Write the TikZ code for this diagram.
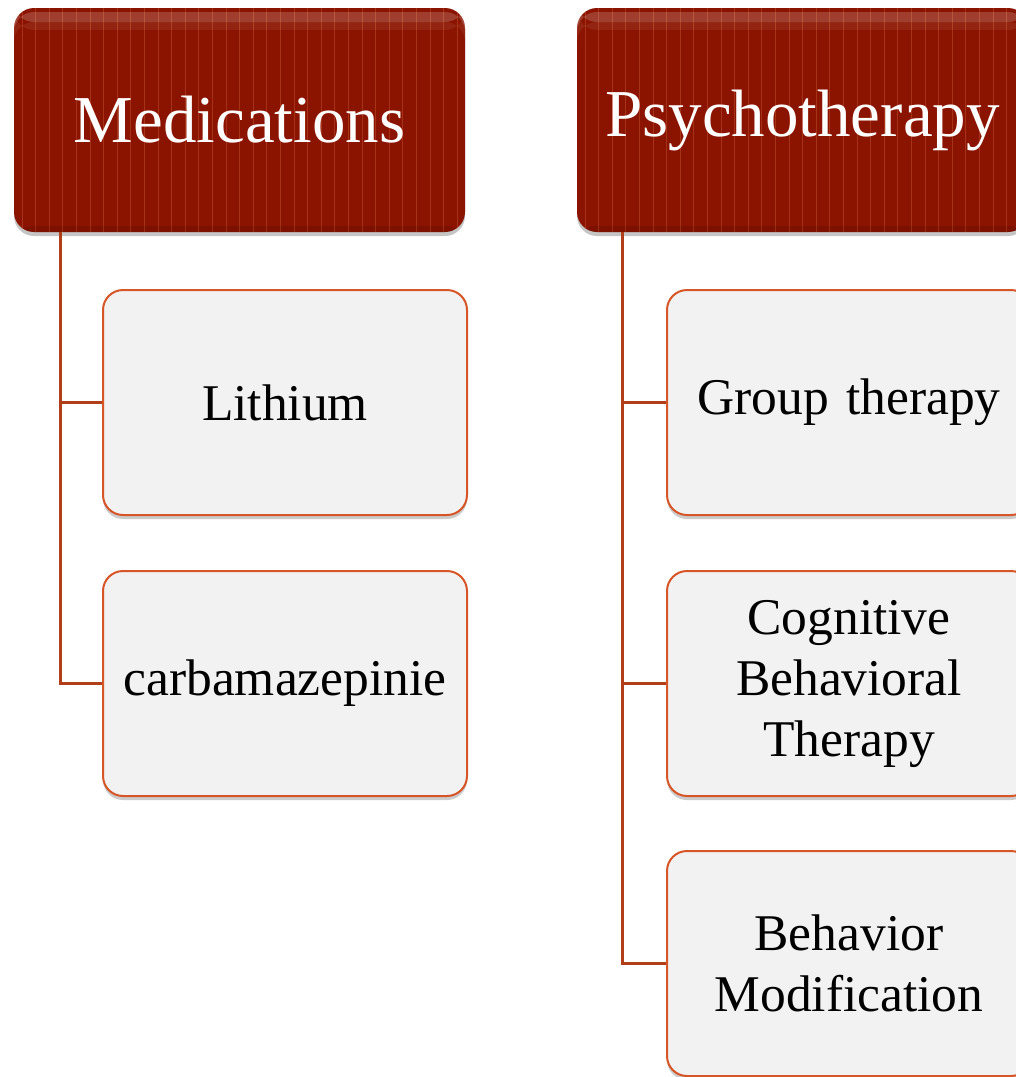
\documentclass[tikz,border=0pt]{standalone}
\usepackage{fontspec}
\setmainfont{Liberation Serif}
\usetikzlibrary{shadows,fadings}
\definecolor{hdrred}{RGB}{139,20,0}
\definecolor{stripe}{RGB}{200,90,50}
\definecolor{boxfill}{RGB}{242,242,242}
\definecolor{boxline}{RGB}{214,86,40}
\definecolor{linkcol}{RGB}{176,62,24}
\tikzset{
  x=1pt, y=-1pt,
  header/.style={rounded corners=20pt, fill=hdrred, minimum width=451pt, minimum height=224pt,
    text=white, font=\fontsize{67}{72}\selectfont, inner sep=0pt,
    drop shadow={opacity=0.45, shadow xshift=0pt, shadow yshift=-4pt},
    path picture={
      \foreach \i in {0,...,34}{
        \draw[stripe, opacity=0.45, line width=0.9pt]
          ([xshift=8pt+\i*13.6pt]path picture bounding box.north west) --
          ([xshift=8pt+\i*13.6pt]path picture bounding box.south west);
      }
      \fill[white, opacity=0.18] ([yshift=-4pt]path picture bounding box.north west) rectangle
          ([yshift=-14pt]path picture bounding box.north east);
      \fill[white, opacity=0.07] ([yshift=-14pt]path picture bounding box.north west) rectangle
          ([yshift=-22pt]path picture bounding box.north east);
      \fill[black, opacity=0.10] ([yshift=6pt]path picture bounding box.south west) rectangle
          (path picture bounding box.south east);
    }},
  child/.style={rounded corners=20pt, fill=boxfill, draw=boxline, line width=2pt,
    minimum width=364pt, minimum height=225pt, text width=340pt, align=center,
    font=\fontsize{51.5}{61}\selectfont, inner sep=0pt,
    drop shadow={opacity=0.4, shadow xshift=0pt, shadow yshift=-4pt}},
  link/.style={draw=linkcol, line width=3pt}
}
\begin{document}
\begin{tikzpicture}
\useasboundingbox (0,0) rectangle (1016,1077);
\fill[white] (0,0) rectangle (1016,1077);

\node[header] (med) at (239.5,120) {\raisebox{-3pt}{Medications}};
\node[header] (psy) at (802.5,120) {\raisebox{-3pt}{Psychotherapy}};

\node[child] (lith) at (285,402.5) {Lithium};
\node[child] (carb) at (285,683.5) {carbamazepinie};

\node[child] (grp) at (849,402.5) {Group therapy};
\node[child] (cbt) at (849,683.5) {Cognitive\\Behavioral\\Therapy};
\node[child] (bm) at (849,963.5) {Behavior\\Modification};

\coordinate (m0) at (60,0);
\coordinate (p0) at (622,0);
\draw[link] (m0 |- med.south) -- (m0 |- lith.west) -- (lith.west);
\draw[link] (m0 |- lith.west) -- (m0 |- carb.west) -- (carb.west);
\draw[link] (p0 |- psy.south) -- (p0 |- grp.west) -- (grp.west);
\draw[link] (p0 |- grp.west) -- (p0 |- cbt.west) -- (cbt.west);
\draw[link] (p0 |- cbt.west) -- (p0 |- bm.west) -- (bm.west);
\end{tikzpicture}
\end{document}
